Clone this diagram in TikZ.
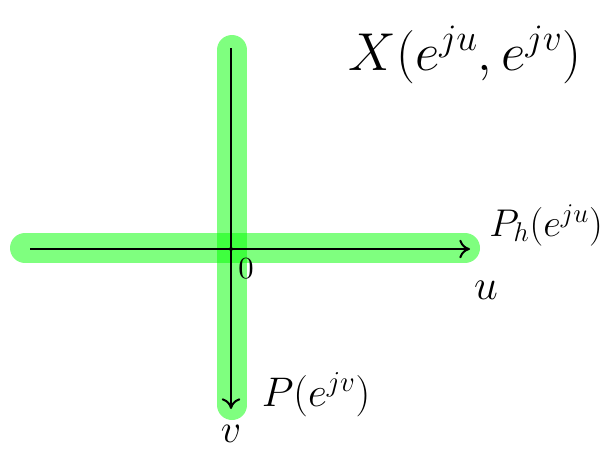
\documentclass[tikz,border=0pt]{standalone}
\usepackage{fix-cm}
\usepackage{fontspec}
\usetikzlibrary{arrows.meta}
\begin{document}
\begin{tikzpicture}[x=0.75pt,y=-0.75pt,
  band/.style={line width=22.5pt,line cap=round,draw={rgb,255:red,0;green,255;blue,0},draw opacity=0.5},
  axis/.style={line width=1.5pt,-{To[length=8pt,width=14pt]}},
  lbl/.style={inner sep=0pt,font=\fontsize{29}{31}\selectfont}]
\useasboundingbox (0,0) rectangle (605,450);
\coordinate (L) at (25,248);
\coordinate (R) at (465,248);
\coordinate (T) at (232,50);
\coordinate (B) at (232,405);
\coordinate (O) at (231,249);
\coordinate (Ls) at (30,249);
\coordinate (Re) at (470,249);
\coordinate (Ts) at (231,48);
\coordinate (Be) at (231,409);
\draw[band] (L) -- (R);
\draw[band] (T) -- (B);
\draw[axis] (Ls) -- (Re);
\draw[axis] (Ts) -- (Be);
\fill (O) circle (1.5pt);
\node[inner sep=0pt] (zero) at (246,269) {\scalebox{2.3}{$0$}};
\node[lbl,font=\fontsize{32}{34}\selectfont] (u) at (486,290) {$u$};
\node[lbl,font=\fontsize{30}{32}\selectfont] (v) at (231,434) {$v$};
\node[lbl] (ph) at (546,225) {$P_h(e^{ju})$};
\node[lbl,font=\fontsize{31}{33}\selectfont] (pv) at (316,395) {$P(e^{jv})$};
\node[lbl,font=\fontsize{40}{42}\selectfont] (X) at (465,55) {$X(e^{ju},e^{jv})$};
\end{tikzpicture}
\end{document}
